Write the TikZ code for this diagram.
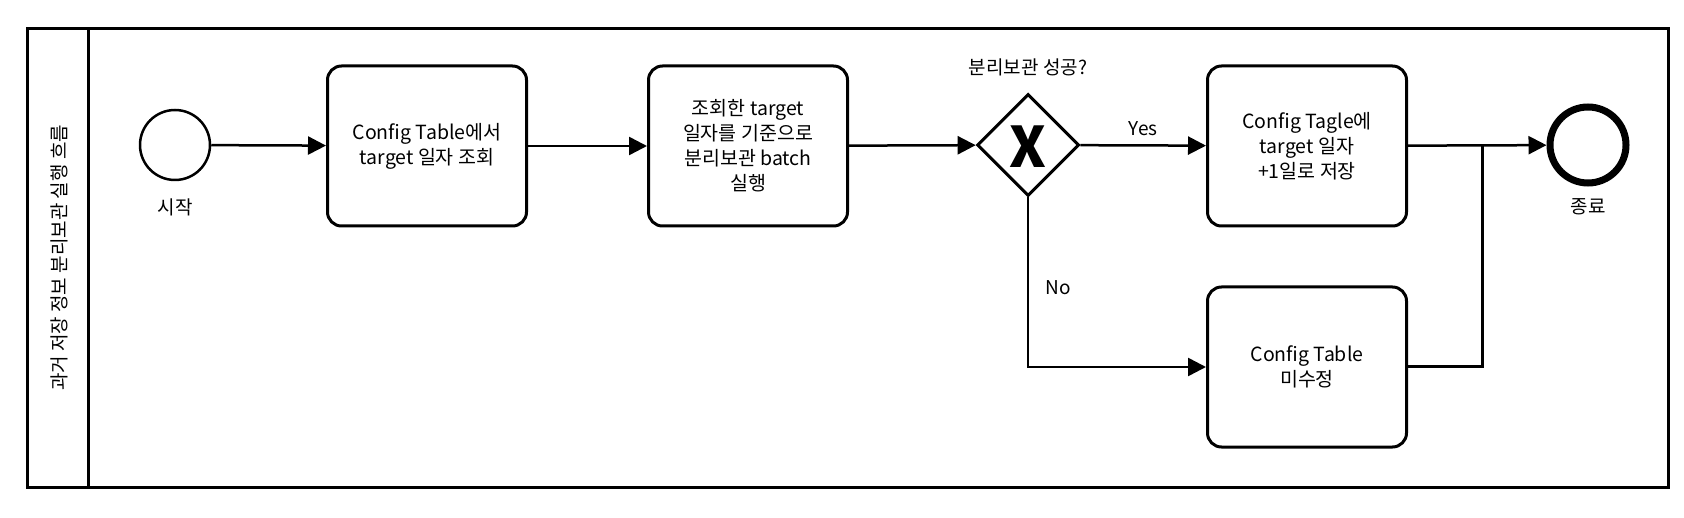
\documentclass[tikz,border=0pt]{standalone}
\usepackage{fontspec}
\setmainfont{Noto Sans CJK KR}
\usetikzlibrary{arrows.meta,shapes.geometric}
\begin{document}
\begin{tikzpicture}[x=1pt,y=-1pt,
  line width=3pt,
  task/.style={draw,rounded corners=14pt,minimum width=199pt,minimum height=160pt,align=center,font=\fontsize{19.5}{25}\selectfont,inner sep=0pt},
  lbl/.style={font=\fontsize{19}{24}\selectfont},
  flow/.style={-{Triangle[length=18pt,width=18pt]},line width=2.5pt}]
\useasboundingbox (0,0) rectangle (1684,518);
\draw (27,29) rectangle (1668,487);
\draw (88,29) -- (88,487);
\node[lbl,rotate=90] (title) at (59,258) {과거 저장 정보 분리보관 실행 흐름};
\node[draw,circle,minimum size=70pt,line width=2.5pt] (start) at (175,145) {};
\node[lbl] (startl) at (175,207) {시작};
\node[task] (t1) at (427,146) {Config Table에서\\target 일자 조회};
\node[task] (t2) at (748,146) {조회한 target\\일자를 기준으로\\분리보관 batch\\실행};
\node[draw,diamond,minimum size=102pt,inner sep=0pt,line width=3pt] (gw) at (1028,145) {};
\node[font=\fontsize{56}{56}\selectfont\bfseries] (x) at (1028,147) {X};
\node[lbl] (gwl) at (1028,67) {분리보관 성공?};
\node[task] (t3) at (1307,146) {Config Tagle에\\target 일자\\+1일로 저장};
\node[task] (t4) at (1307,367) {Config Table\\미수정};
\node[draw,circle,minimum size=76pt,line width=7pt] (end) at (1588,145) {};
\node[lbl] (endl) at (1588,207) {종료};
\node[lbl] (no) at (1058,288) {No};
\coordinate (j) at (1482,145);
\draw[flow] (start) -- (t1);
\draw[flow] (t1) -- (t2);
\draw[flow] (t2) -- (gw);
\draw[flow] (gw) -- node[lbl,above=5pt]{Yes} (t3);
\draw[flow] (gw.south) |- (t4);
\draw[flow] (t3) -- (end);
\draw (t4.east) -| (j);
\end{tikzpicture}
\end{document}
